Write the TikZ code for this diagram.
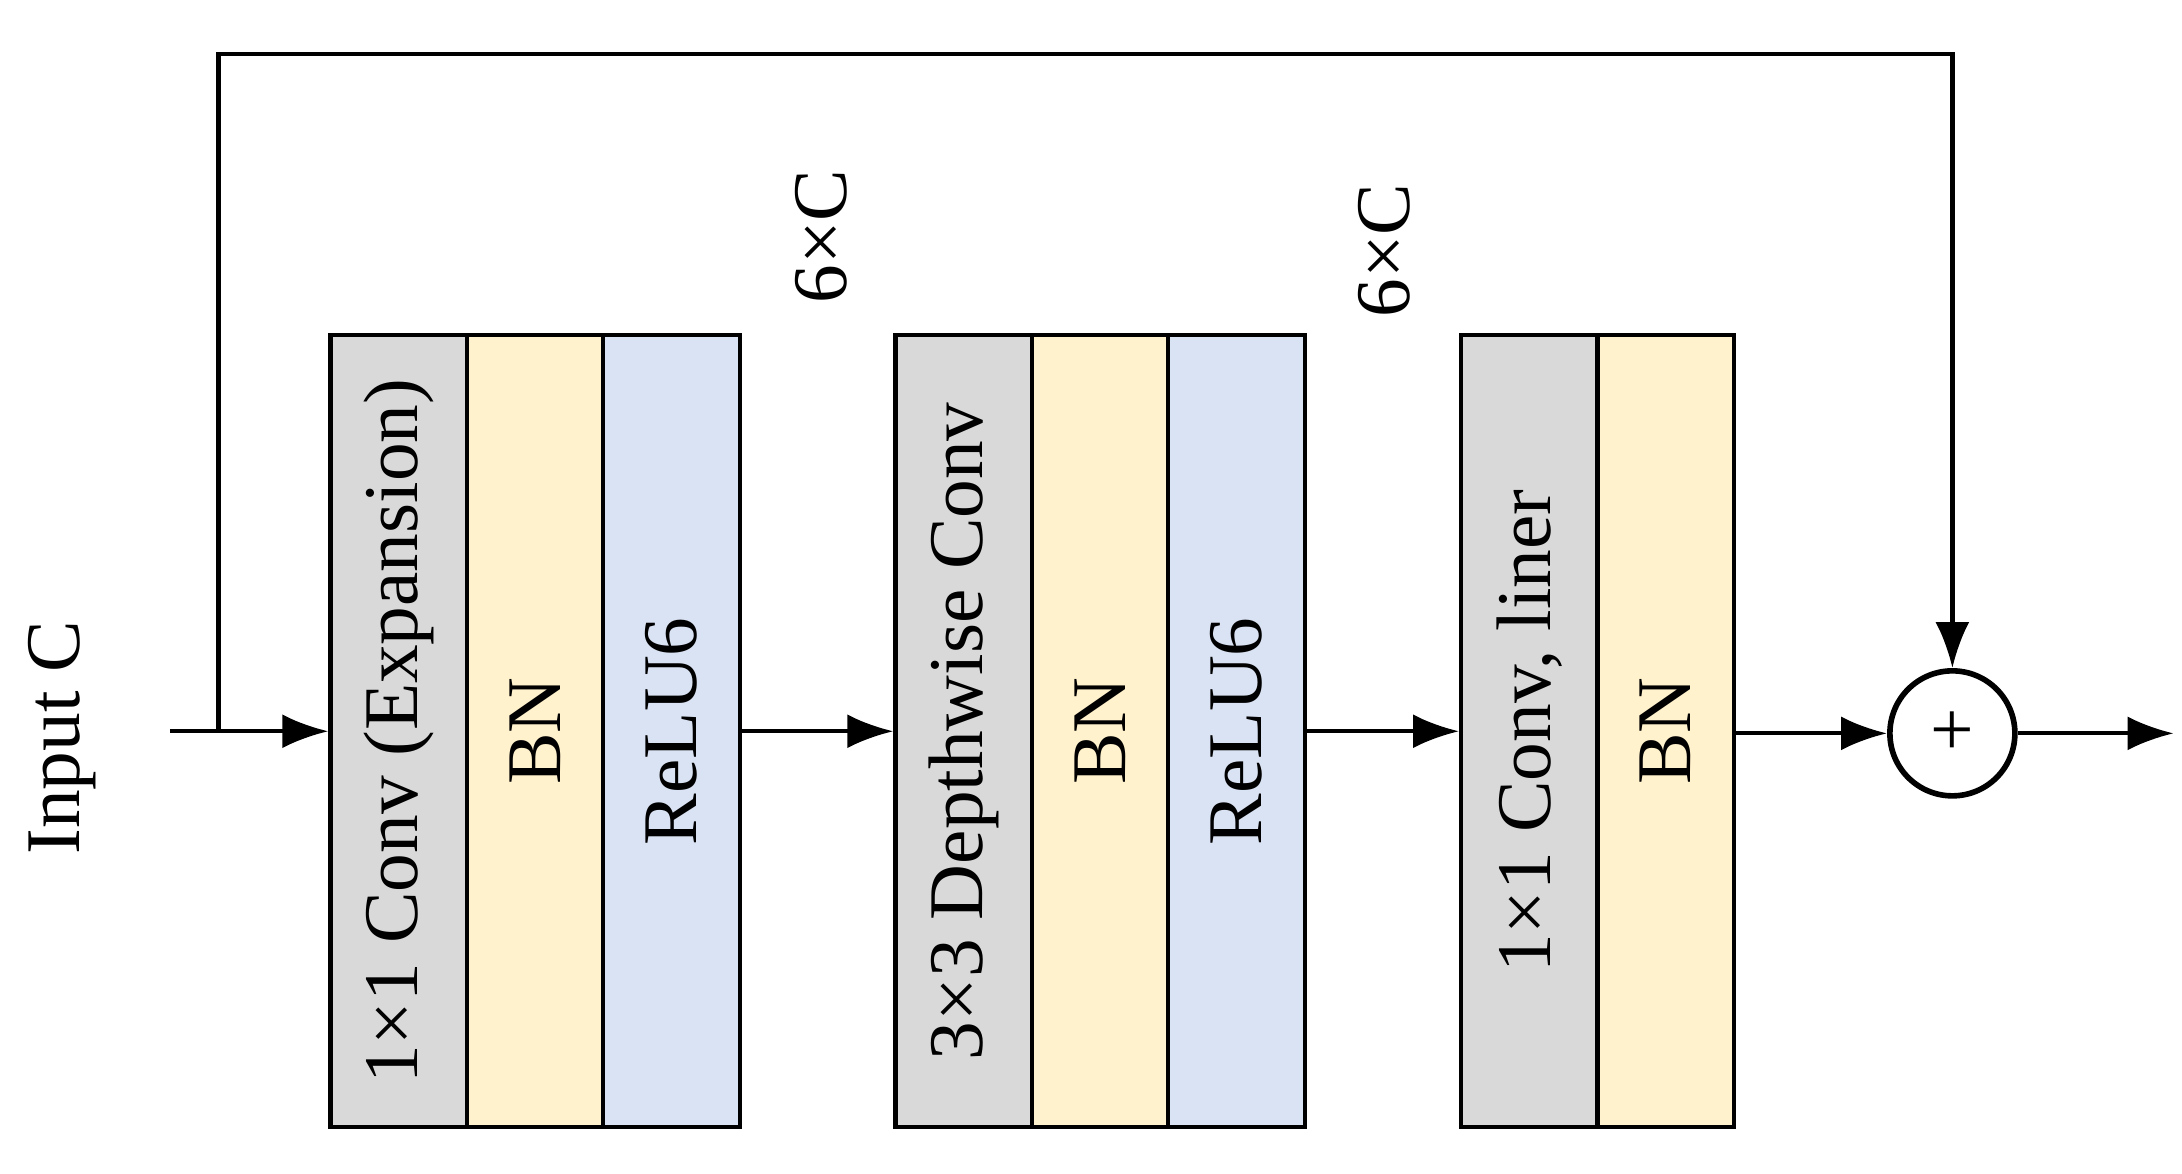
\documentclass[tikz,border=0pt]{standalone}
\usepackage{fontspec}
\setmainfont{Liberation Serif}
\usetikzlibrary{arrows.meta}
\definecolor{convgray}{HTML}{D9D9D9}
\definecolor{bnyellow}{HTML}{FFF2CC}
\definecolor{relublue}{HTML}{DAE3F3}
\tikzset{
  >={Latex[length=4.6mm,width=3.4mm]},
}
\tikzstyle{col}=[draw,line width=1.2pt,minimum width=1.364cm,minimum height=7.918cm,inner sep=0pt]
\tikzstyle{flow}=[line width=1.2pt,->]
\tikzstyle{every node}=[font=\fontsize{22}{26}\selectfont]

\begin{document}
\begin{tikzpicture}[x=0.013916cm,y=-0.013916cm]
    \useasboundingbox (0,0) rectangle (1568,843.6);
    % first block
    \node[col,fill=convgray] (a1) at (286.5,525.5) {\rotatebox{90}{1×1 Conv (Expansion)}};
    \node[col,fill=bnyellow] (a2) at (384.5,525.5) {\rotatebox{90}{BN}};
    \node[col,fill=relublue] (a3) at (482.5,525.5) {\rotatebox{90}{ReLU6}};
    % second block
    \node[col,fill=convgray] (b1) at (692.5,525.5) {\rotatebox{90}{3×3 Depthwise Conv}};
    \node[col,fill=bnyellow] (b2) at (790.5,525.5) {\rotatebox{90}{BN}};
    \node[col,fill=relublue] (b3) at (888.5,525.5) {\rotatebox{90}{ReLU6}};
    % third block
    \node[col,fill=convgray] (c1) at (1099,525.5) {\rotatebox{90}{1×1 Conv, liner}};
    \node[col,fill=bnyellow] (c2) at (1197,525.5) {\rotatebox{90}{BN}};
    \node[draw,circle,line width=1.6pt,minimum size=1.25cm,inner sep=0pt] (sum) at (1403,527) {+};
    \node[rotate=90] (in) at (45,530) {Input C};
    \node[rotate=90] (e1) at (590,170) {6×C};
    \node[rotate=90] (e2) at (995,180) {6×C};
    \coordinate (start) at (122,525.5);
    \coordinate (split) at (157,525.5);
    \coordinate (out) at (1562,527);
    \draw[flow] (start)--(a1);
    \draw[flow] (split)--(157,39)-|(sum.north);
    \draw[flow] (a3)--(b1);
    \draw[flow] (b3)--(c1);
    \draw[flow] (c2.east|-sum)--(sum);
    \draw[flow] (sum)--(out);
  \end{tikzpicture}
\end{document}
